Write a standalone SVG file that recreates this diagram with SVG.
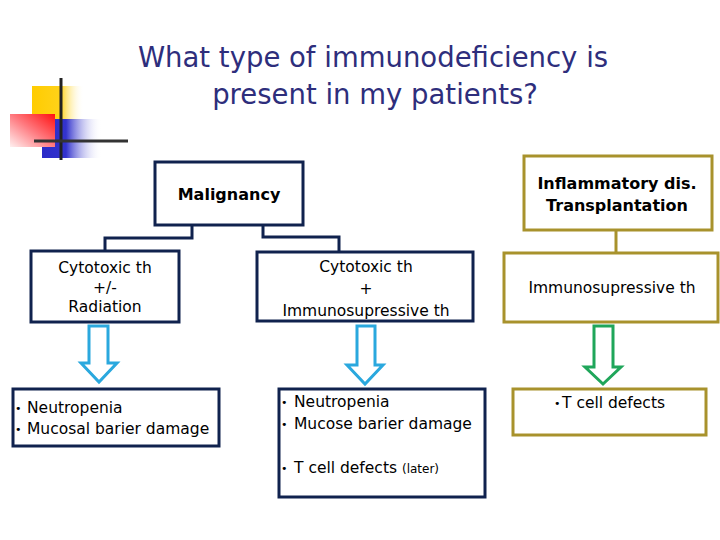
<svg xmlns="http://www.w3.org/2000/svg" width="720" height="540" viewBox="0 0 720 540">
<defs>
<linearGradient id="gy" x1="0" y1="0" x2="1" y2="0"><stop offset="0" stop-color="#FFCC00"/><stop offset="0.55" stop-color="#FFD21A"/><stop offset="1" stop-color="#FFFFFF" stop-opacity="0"/></linearGradient>
<linearGradient id="gb" x1="0" y1="0" x2="1" y2="0"><stop offset="0" stop-color="#2B2BC8"/><stop offset="0.4" stop-color="#3333CC"/><stop offset="1" stop-color="#FFFFFF" stop-opacity="0"/></linearGradient>
<linearGradient id="gr" x1="1" y1="0" x2="0" y2="1"><stop offset="0" stop-color="#FF1010"/><stop offset="0.5" stop-color="#FF7A80"/><stop offset="1" stop-color="#FFF0F0"/></linearGradient>
<style>
.nv{fill:#fff;stroke:#10224E;stroke-width:3}
.gd{fill:#fff;stroke:#A8922C;stroke-width:3}
.cn{fill:none;stroke:#10224E;stroke-width:3}
.cg{fill:none;stroke:#A8922C;stroke-width:3}
.ab{fill:#fff;stroke:#2AA8DE;stroke-width:3;stroke-linejoin:miter}
.ag{fill:#fff;stroke:#1FA65A;stroke-width:3;stroke-linejoin:miter}
.t{font-family:"DejaVu Sans",Verdana,sans-serif;font-size:15.5px;fill:#000}
.c{text-anchor:middle}
.b{font-family:"DejaVu Sans",Verdana,sans-serif;font-size:16px;font-weight:bold;fill:#000;text-anchor:middle}
.bu{font-family:"DejaVu Sans",sans-serif;font-size:11px;fill:#000}
.ti{font-family:"DejaVu Sans",Verdana,sans-serif;font-size:27.5px;fill:#2E2E7C;text-anchor:middle}
</style>
</defs>
<rect width="720" height="540" fill="#fff"/>
<g id="logo">
<rect x="32" y="86" width="52" height="34" fill="url(#gy)"/>
<rect x="42" y="119" width="60" height="39" fill="url(#gb)"/>
<rect x="10" y="114" width="45" height="33" fill="url(#gr)"/>
<line x1="61" y1="78" x2="61" y2="160" stroke="#222" stroke-width="3"/>
<line x1="34" y1="141" x2="128" y2="141" stroke="#333" stroke-width="3"/>
</g>
<g id="title">
<text class="ti" x="373" y="67">What type of immunodeficiency is</text>
<text class="ti" x="375" y="104">present in my patients?</text>
</g>
<g id="connectors">
<path class="cn" d="M192,225 V238 H105 V251"/>
<path class="cn" d="M263,225 V237 H339 V252"/>
<path class="cg" d="M616,230 V253"/>
<polygon class="ab" points="89,326 108,326 108,363 117,363 99,382 81,363 89,363"/>
<polygon class="ab" points="357,326 375,326 375,365 383,365 365,384 347,365 357,365"/>
<polygon class="ag" points="594,326 613,326 613,367 621,367 603,384 585,367 594,367"/>
</g>
<g id="malignancy">
<rect class="nv" x="155" y="162" width="148" height="63"/>
<text class="b" x="229" y="200">Malignancy</text>
</g>
<g id="inflammatory">
<rect class="gd" x="524" y="156" width="188" height="74"/>
<text class="b" x="617" y="189">Inflammatory dis.</text>
<text class="b" x="617" y="211">Transplantation</text>
</g>
<g id="cytotoxic-radiation">
<rect class="nv" x="31" y="251" width="148" height="71"/>
<text class="t c" x="105" y="273">Cytotoxic th</text>
<text class="t c" x="105" y="293">+/-</text>
<text class="t c" x="105" y="312">Radiation</text>
</g>
<g id="cytotoxic-immuno">
<rect class="nv" x="257" y="252" width="216" height="69"/>
<text class="t c" x="366" y="272">Cytotoxic th</text>
<text class="t c" x="366" y="294">+</text>
<text class="t c" x="366" y="316">Immunosupressive th</text>
</g>
<g id="immunosupressive">
<rect class="gd" x="504" y="253" width="214" height="69"/>
<text class="t c" x="612" y="293">Immunosupressive th</text>
</g>
<g id="outcome-1">
<rect class="nv" x="13" y="389" width="206" height="57"/>
<text class="bu" x="15" y="412">•</text>
<text class="t" x="27" y="413">Neutropenia</text>
<text class="bu" x="15" y="433">•</text>
<text class="t" x="27" y="434">Mucosal barier damage</text>
</g>
<g id="outcome-2">
<rect class="nv" x="279" y="389" width="206" height="108"/>
<text class="bu" x="281" y="406">•</text>
<text class="t" x="294" y="407">Neutropenia</text>
<text class="bu" x="281" y="428">•</text>
<text class="t" x="294" y="429">Mucose barier damage</text>
<text class="bu" x="281" y="472">•</text>
<text class="t" x="294" y="473">T cell defects <tspan font-size="12px">(later)</tspan></text>
</g>
<g id="outcome-3">
<rect class="gd" x="513" y="389" width="193" height="46"/>
<text class="bu" x="554" y="407">•</text>
<text class="t" x="562" y="408">T cell defects</text>
</g>
</svg>
